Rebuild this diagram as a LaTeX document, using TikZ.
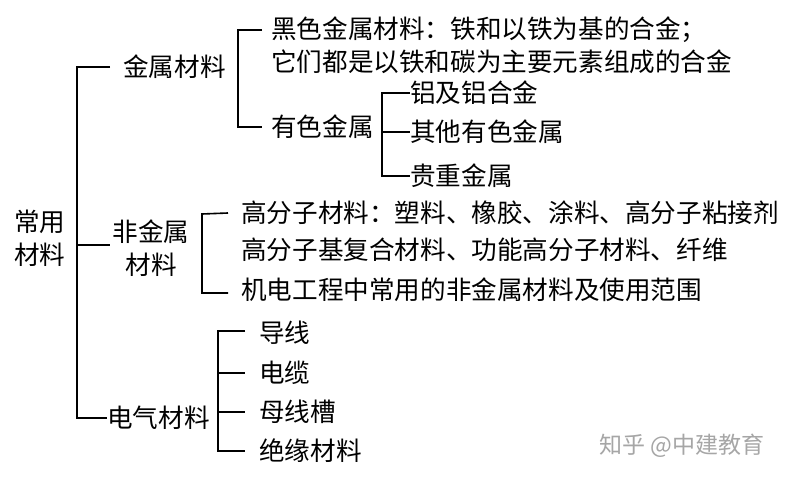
\documentclass[tikz,border=0pt]{standalone}
\usepackage{fontspec}
\setmainfont{Noto Sans CJK SC}
\begin{document}
\begin{tikzpicture}[x=1pt,y=-1pt,
  lbl/.style={anchor=west,inner sep=0pt,font=\fontsize{25.6}{33}\selectfont},
  br/.style={line width=1.6pt,black}]
\path[use as bounding box,fill=white] (0,0) rectangle (790,478);
% root
\node[inner sep=0pt,align=center,font=\fontsize{25.6}{33}\selectfont] (root) at (40,238) {常用\\材料};
% level 1
\node[lbl] (metal) at (123,67) {金属材料};
\node[inner sep=0pt,align=center,font=\fontsize{25.6}{33}\selectfont] (nonm) at (151,248) {非金属\\材料};
\node[lbl] (elec) at (107,418) {电气材料};
% metal children
\node[lbl] (ferr) at (271,30) {黑色金属材料：铁和以铁为基的合金；};
\node[lbl] (ferr2) at (271,62) {它们都是以铁和碳为主要元素组成的合金};
\node[lbl] (nonf) at (271,127) {有色金属};
\node[lbl] (al) at (410,93) {铝及铝合金};
\node[lbl] (oth) at (410,132) {其他有色金属};
\node[lbl] (prec) at (410,176) {贵重金属};
% nonmetal children
\node[lbl] (poly) at (241,213) {高分子材料：塑料、橡胶、涂料、高分子粘接剂};
\node[lbl] (comp) at (241,250) {高分子基复合材料、功能高分子材料、纤维};
\node[lbl] (mech) at (241,290) {机电工程中常用的非金属材料及使用范围};
% electric children
\node[lbl] (wire) at (259,333) {导线};
\node[lbl] (cable) at (259,373) {电缆};
\node[lbl] (bus) at (259,412) {母线槽};
\node[lbl] (ins) at (259,451) {绝缘材料};
% watermark
\node[anchor=west,inner sep=0pt,text=black!35,font=\fontsize{23}{26}\selectfont] (wm) at (599,446) {知乎 @中建教育};
% spine coordinates
\coordinate (s0) at (77,0);
\coordinate (s1) at (238,0);
\coordinate (s2) at (382,0);
\coordinate (s3) at (202,0);
\coordinate (s4) at (218,0);
% trunk
\draw[br] ([xshift=-13pt]metal.west) -- (metal.west -| s0) -- (elec.west -| s0) -- (elec.west);
\draw[br] (nonm.west -| s0) ++(0,-3) -- ++(33,0);
% metal bracket
\draw[br] ([xshift=-9pt]ferr.west) -- (ferr.west -| s1) -- (nonf.west -| s1) -- ([xshift=-9pt]nonf.west);
% nonferrous bracket
\draw[br] (al.west) -- (al.west -| s2) -- (prec.west -| s2) -- (prec.west);
\draw[br] (oth.west -| s2) -- (oth.west);
% nonmetal bracket
\draw[br] ([xshift=-13pt]poly.west) -- ([yshift=-1pt]poly.west -| s3) -- ([yshift=-3pt]mech.west -| s3) -- ([xshift=-13pt,yshift=-3pt]mech.west);
% electric bracket
\draw[br] ([xshift=-14pt,yshift=2pt]wire.west) -- ([yshift=2pt]wire.west -| s4) -- (ins.west -| s4) -- ([xshift=-14pt]ins.west);
\draw[br] (cable.west -| s4) -- ([xshift=-14pt]cable.west);
\draw[br] (bus.west -| s4) -- ([xshift=-14pt]bus.west);
\end{tikzpicture}
\end{document}
